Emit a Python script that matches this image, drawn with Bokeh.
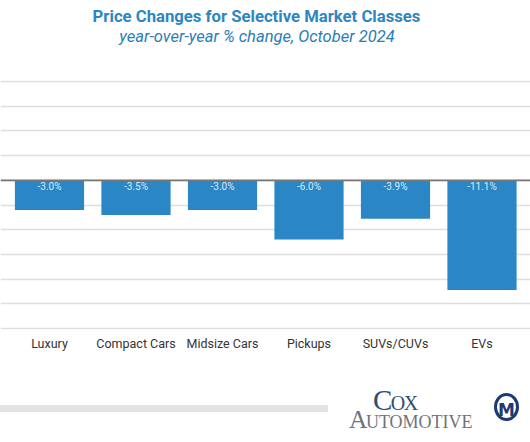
from bokeh.plotting import figure
from bokeh.models import Range1d, FixedTicker, Span, Div, ColumnDataSource
from bokeh.layouts import column
from bokeh.core.properties import value
from bokeh.embed import file_html
from bokeh.resources import INLINE

categories = ["Luxury", "Compact Cars", "Midsize Cars", "Pickups", "SUVs/CUVs", "EVs"]
changes = [-3.0, -3.5, -3.0, -6.0, -3.9, -11.1]
grid_ticks = [-15, -12.5, -10, -7.5, -5, -2.5, 0, 2.5, 5, 7.5, 10]
title_text = "Price Changes for Selective Market Classes"
subtitle_text = "year-over-year % change, October 2024"
logo_text = "Cox Automotive"

xs = list(range(len(categories)))
labels = [f"{v:.1f}%" for v in changes]
src = ColumnDataSource(dict(x=xs, top=[0] * len(xs), bottom=changes, label=labels))

header = Div(width=530, height=80, margin=0, text=f"""
<div style="position:relative;width:530px;height:80px;font-family:Roboto;">
  <div style="position:absolute;left:0;top:7px;width:513px;text-align:center;font-size:16.7px;line-height:20px;
       font-weight:bold;color:#2e86c1;white-space:nowrap;">{title_text}</div>
  <div style="position:absolute;left:0;top:27px;width:514px;text-align:center;font-size:16.5px;line-height:20px;
       font-style:italic;color:#2a7db5;white-space:nowrap;">{subtitle_text}</div>
</div>
""")

p = figure(width=530, height=279, output_backend="svg", toolbar_location=None,
           x_range=Range1d(-0.5665, 5.5607), y_range=Range1d(-15.1, 10.1),
           min_border_left=0, min_border_right=0, min_border_top=0, min_border_bottom=30,
           title=None, margin=0)
p.outline_line_color = None
p.background_fill_color = "white"
p.border_fill_color = "white"

p.yaxis.visible = False
p.ygrid.ticker = FixedTicker(ticks=grid_ticks)
p.ygrid.grid_line_color = "#dedede"
p.ygrid.grid_line_width = 1.5
p.xgrid.visible = False

p.xaxis.ticker = FixedTicker(ticks=xs)
p.xaxis.major_label_overrides = {i: c for i, c in zip(xs, categories)}
p.xaxis.axis_line_color = None
p.xaxis.major_tick_line_color = None
p.xaxis.minor_tick_line_color = None
p.xaxis.major_tick_out = 0
p.xaxis.major_tick_in = 0
p.xaxis.major_label_text_font = "Roboto"
p.xaxis.major_label_text_font_size = "12.5px"
p.xaxis.major_label_text_color = "#333333"
p.xaxis.major_label_standoff = 6

p.vbar(x="x", top="top", bottom="bottom", width=0.8, source=src,
       fill_color="#2b86c6", line_color=None)
p.add_layout(Span(location=0, dimension="width", line_color="#777777", line_width=1.8))
p.text(x="x", y="top", text="label", source=src, y_offset=1,
       text_align="center", text_baseline="top", text_font=value("Roboto"),
       text_font_size="10px", text_color="#dde9f5")

footer = Div(width=530, height=82, margin=0, text=f"""
<style>
  .logo {{ position:absolute; left:349px; top:32px; width:132px; font-family:'Liberation Serif';
          font-variant:small-caps; font-size:25.5px; line-height:19px; color:#6f7479;
          white-space:normal; text-indent:24px; }}
  .logo::first-line {{ font-size:29px; color:#2d4f6e; letter-spacing:-1.5px; }}
</style>
<div style="position:relative;width:530px;height:82px;">
  <div style="position:absolute;left:0px;top:46px;width:328px;height:7px;background:#e2e3e3;"></div>
  <div class="logo">{logo_text}</div>
  <div style="position:absolute;left:494px;top:34px;width:25px;height:28px;border:3px solid #1f3a70;border-radius:50%;
       text-align:center;font-family:'DejaVu Sans';font-weight:bold;font-size:17px;line-height:28px;color:#1f3a70;">M</div>
</div>
""")

layout = column(header, p, footer, spacing=0)
open("out.html", "w").write(file_html(layout, INLINE))
